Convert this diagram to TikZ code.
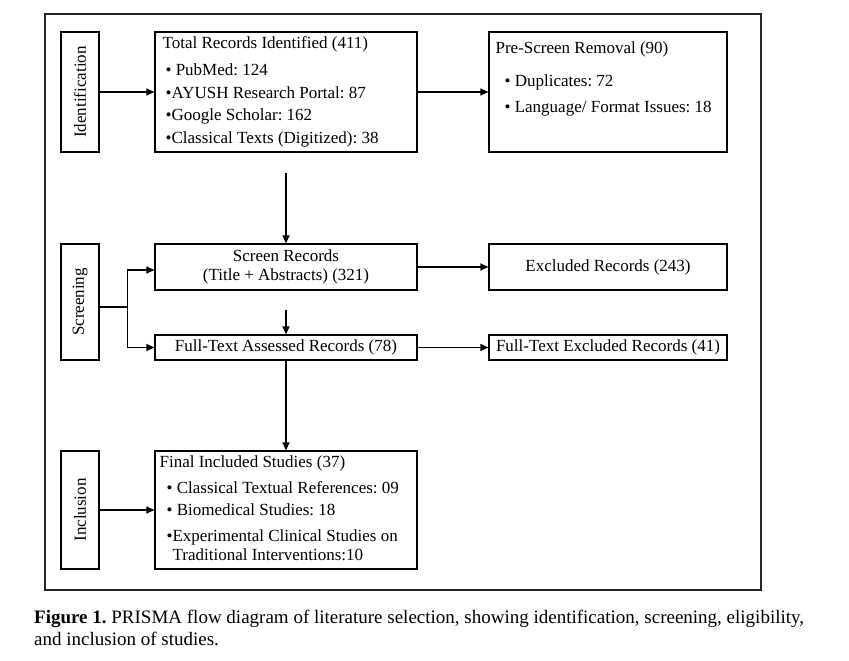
\documentclass[tikz,border=0pt]{standalone}
\usepackage{fontspec}
\setmainfont{Liberation Serif}
\frenchspacing
\usetikzlibrary{arrows.meta,positioning,calc}
\tikzset{
  stagebox/.style={
    draw,
    line width=1.2pt,
    rotate=90,
    minimum height=38pt,
    inner sep=0pt,
    font=\fontsize{17}{20}\selectfont
  },
  flowbox/.style={
    draw,
    line width=1.2pt,
    inner sep=0pt,
    align=center,
    font=\fontsize{17}{19}\selectfont
  },
  listtext/.style={
    anchor=north west,
    inner sep=0pt,
    align=left
  },
  arrow/.style={
    -{Triangle[length=8pt,width=7pt]},
    line width=1.2pt
  }
}

\begin{document}
\begin{tikzpicture}[x=1pt,y=-1pt]
\useasboundingbox (0,0) rectangle (849,661);
% outer frame
\draw[line width=1.5pt, draw=black!85] (45,14) rectangle (761,590);

% stage labels (rotated, so their right side is .south)
\node[stagebox, minimum width=120pt] (ident) at (80,92) {Identification};
\node[stagebox, minimum width=116pt] (screening) at (80,302) {Screening};
\node[stagebox, minimum width=118pt] (inclusion) at (80,510) {Inclusion};

% boxes
\node[flowbox, minimum width=262pt, minimum height=120pt] (total) at (286,92) {};
\node[flowbox, minimum width=238pt, minimum height=120pt] (prescreen) at (608,92) {};
\node[flowbox, minimum width=262pt, minimum height=46pt] (screen) at (286,267) {Screen Records\\(Title + Abstracts) (321)};
\node[flowbox, minimum width=238pt, minimum height=46pt] (excl) at (608,267) {Excluded Records (243)};
\node[flowbox, minimum width=262pt, minimum height=25pt] (fulltext) at (286,347.5) {Full-Text Assessed Records (78)};
\node[flowbox, minimum width=238pt, minimum height=25pt] (ftexcl) at (608,347.5) {Full-Text Excluded Records (41)};
\node[flowbox, minimum width=262pt, minimum height=118pt] (final) at (286,510) {};

% box contents
\node[listtext, font=\fontsize{17}{22.5}\selectfont] (totaltxt) at ([shift={(8,5.2)}]total.north west)
  {Total Records Identified (411)\\[4.5pt]
   \hspace*{3pt}\textbullet\ PubMed: 124\\
   \hspace*{3pt}\textbullet AYUSH Research Portal: 87\\
   \hspace*{3pt}\textbullet Google Scholar: 162\\
   \hspace*{3pt}\textbullet Classical Texts (Digitized): 38};
\node[listtext, font=\fontsize{17}{26}\selectfont] (prescreentxt) at ([shift={(7,10.5)}]prescreen.north west)
  {Pre-Screen Removal (90)\\[7pt]
   \hspace*{9pt}\textbullet\ Duplicates: 72\\
   \hspace*{9pt}\textbullet\ Language/ Format Issues: 18};
\node[listtext, font=\fontsize{17}{22}\selectfont] (finaltxt) at ([shift={(5,5.5)}]final.north west)
  {Final Included Studies (37)\\[4pt]
   \hspace*{7pt}\textbullet\ Classical Textual References: 09\\
   \hspace*{7pt}\textbullet\ Biomedical Studies: 18\\[4pt]
   \hspace*{7pt}\textbullet Experimental Clinical Studies on\\[-3pt]
   \hspace*{13pt}Traditional Interventions:10};

% connectors
\draw[arrow] (ident) -- (total);
\draw[arrow] (total) -- (prescreen);
\draw[arrow, shorten <=20pt] (total) -- (screen);
\draw[line width=1.2pt] ([yshift=-5pt]screening.south) -- ++(28,0) coordinate (split);
\draw[arrow] (split) |- ([yshift=-3pt]screen.west);
\draw[arrow] (split) |- (fulltext);
\draw[arrow] (screen) -- (excl);
\draw[arrow, shorten <=19pt] (screen) -- (fulltext);
\draw[arrow] (fulltext) -- (ftexcl);
\draw[arrow] (fulltext) -- (final);
\draw[arrow] (inclusion) -- (final);

% caption
\node[listtext, font=\fontsize{19}{22}\selectfont] (caption) at (34,610)
  {\textbf{Figure 1.} PRISMA flow diagram of literature selection, showing identification, screening, eligibility,\\
   and inclusion of studies.};
\end{tikzpicture}
\end{document}
